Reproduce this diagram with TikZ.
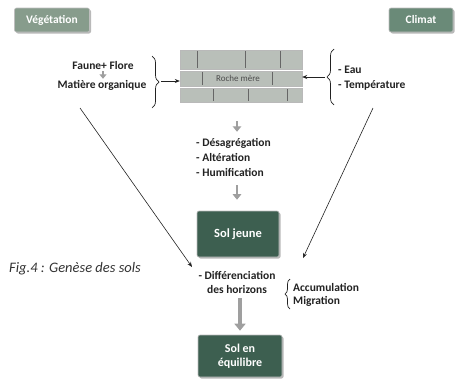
\documentclass[tikz,border=0pt]{standalone}
\usepackage{fontspec}
\setmainfont{Carlito}
\usetikzlibrary{arrows.meta,decorations.pathreplacing,shadows}
\definecolor{vegc}{HTML}{879C8C}
\definecolor{climc}{HTML}{6A8A78}
\definecolor{solc}{HTML}{3D5F50}
\definecolor{brickc}{HTML}{B9BFB9}
\definecolor{txtc}{HTML}{222222}
\begin{document}
\begin{tikzpicture}[x=1pt,y=-1pt,
  font=\bfseries\fontsize{11.5}{13}\selectfont, text=txtc,
  tbox/.style={rounded corners=2pt, draw=white!75!black, line width=0.6pt,
    text=white, align=center, inner sep=2pt,
    drop shadow={shadow xshift=1.5pt, shadow yshift=-1.5pt, fill=gray!55, opacity=1}},
  lbl/.style={inner sep=1pt},
  garrow/.style={draw=gray!75, line width=2.8pt, -{Triangle[length=5.5pt,width=8.5pt]}},
  barrow/.style={draw=txtc, line width=0.6pt, -{Stealth[length=5pt,width=4pt]}},
  bracestyle/.style={draw=txtc, line width=0.7pt, decorate, decoration={brace, amplitude=7pt}},
  brickrow/.style={fill=brickc, draw=gray!55, line width=0.4pt},
  joint/.style={draw=black!60, line width=0.7pt}
]
\useasboundingbox (0,0) rectangle (460,378);

% top boxes
\node[tbox, fill=vegc, minimum width=75, minimum height=24, font=\bfseries\fontsize{11.5}{12}\selectfont] (veg) at (52,20) {Végétation};
\node[tbox, fill=climc, minimum width=64, minimum height=24, font=\bfseries\fontsize{11.5}{12}\selectfont] (clim) at (421,20) {Climat};

% roche mere (bricks)
\node[minimum width=122, minimum height=52, inner sep=0] (brick) at (241,76) {};
\draw[brickrow] (180,50) rectangle (302,69);
\draw[brickrow] (180,71) rectangle (302,86);
\draw[brickrow] (180,88) rectangle (302,102);
\draw[joint] (197,51) -- (197,68) (245,51) -- (245,68) (280,51) -- (280,68);
\draw[joint] (202,72) -- (202,85) (272,72) -- (272,85);
\draw[joint] (213,89) -- (213,101) (248,89) -- (248,101) (287,89) -- (287,101);
\node[lbl, font=\fontsize{9}{10}\selectfont, text=black!70] (roche) at (238,78) {Roche mère};

% left inputs
\node[lbl] (faune) at (103,66) {Faune+ Flore};
\node[lbl] (matiere) at (102,85) {Matière organique};
\draw[garrow, line width=2.2pt, -{Triangle[length=4.5pt,width=7pt]}] (faune) -- (faune |- matiere.north);
\draw[bracestyle] (152,56) -- (152,108);
\coordinate (lb) at (161,81);
\draw[barrow] (lb) -- (lb -| brick.west);

% right inputs
\node[lbl, anchor=west] (eau) at (337,70) {- Eau};
\node[lbl, anchor=west] (temp) at (337,85) {- Température};
\draw[bracestyle] (334,105) -- (334,49);
\coordinate (rb) at (325,77);
\draw[barrow] (rb) -- (rb -| brick.east);

% processes
\node[lbl, anchor=west] (d1) at (195,143) {- Désagrégation};
\node[lbl, anchor=west] (d2) at (195,157) {- Altération};
\node[lbl, anchor=west] (d3) at (195,172) {- Humification};
\coordinate (ax) at (237,0);
\draw[garrow, shorten <=19pt, shorten >=5pt] (brick.south -| ax) -- (d1.north -| ax);

% sol jeune
\node[tbox, fill=solc, minimum width=82, minimum height=46, font=\bfseries\fontsize{12.5}{14}\selectfont] (jeune) at (238,234) {Sol jeune};
\draw[garrow, shorten <=8pt, shorten >=11pt] (d3.south -| ax) -- (jeune.north -| ax);

% differenciation
\node[lbl] (diff) at (237,275) {- Différenciation};
\node[lbl] (hor) at (237,290) {des horizons};
\draw[bracestyle, decoration={brace, amplitude=5pt}] (290,309) -- (290,279);
\node[lbl, anchor=west] (acc) at (292,287) {Accumulation};
\node[lbl, anchor=west] (mig) at (292,301) {Migration};

% diagonals
\coordinate (vl) at (80,108);
\coordinate (dl) at (192,267);
\coordinate (vr) at (373,108);
\coordinate (dr) at (303,258);
\draw[barrow] (vl) -- (dl);
\draw[barrow] (vr) -- (dr);

% sol en equilibre
\node[tbox, fill=solc, minimum width=84, minimum height=42, font=\bfseries\fontsize{12}{14}\selectfont] (equi) at (240,356) {Sol en\\équilibre};
\draw[garrow, line width=4.5pt, -{Triangle[length=7pt,width=11pt]}, shorten <=3pt, shorten >=4pt] (hor.south -| equi) -- (equi.north);

% caption
\node[lbl, anchor=west, font=\itshape\fontsize{14.5}{16}\selectfont, text=black!80] (fig) at (8,269) {Fig.4 : Genèse des sols};
\end{tikzpicture}
\end{document}
